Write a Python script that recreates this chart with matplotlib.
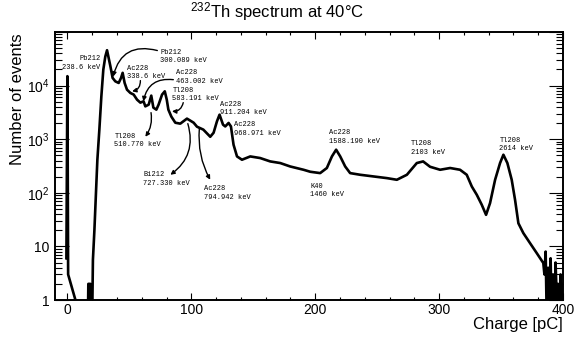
import numpy as np
import matplotlib
matplotlib.use("Agg")
import matplotlib.pyplot as plt
from matplotlib.ticker import FixedLocator, LogLocator, MultipleLocator, NullFormatter

plt.rcParams['font.family'] = ['Liberation Sans', 'DejaVu Sans']
plt.rcParams['mathtext.default'] = 'regular'

# spectrum (charge in pC, events per bin)
charge = [-0.8, 0, 0.6, 6.5, 7, 16.5, 16.9, 18.5, 19.2, 20.2, 20.6, 21.8, 23, 24.2,
          25.8, 27.4, 29, 30.6, 32, 34.7, 36.5, 38.7, 41.4, 43.3, 44.6, 46.2, 48.1,
          50.8, 53.5, 56.2, 58.9, 61.5, 62.9, 65.6, 67.7, 69.4, 71.8, 73.6, 76.4,
          78.6, 80.2, 81.5, 83.9, 87.1, 91.1, 96.5, 99.2, 101.9, 104.6, 109.7, 115.3,
          118, 120.7, 122.8, 125.6, 127.4, 130.1, 132, 134.1, 136.9, 140.9, 147.6,
          155.6, 163.7, 171.8, 179.8, 190.6, 196, 204, 209.4, 213.5, 216.9, 220.2,
          224.2, 228.2, 236.3, 247, 257.8, 265.9, 274, 282, 287.1, 292.7, 300.8,
          308.9, 316.9, 322.3, 326.4, 330.4, 334.4, 337.9, 341.1, 345.2, 349.2,
          351.9, 355.1, 358.6, 361.3, 364, 368, 373.4, 378.8, 384.1, 385, 386, 387,
          388, 389, 390, 391, 392, 393, 394, 395, 396, 397, 398, 399, 400]
events = [6, 15000, 3, 1, 0, 0, 2, 2, 0, 1, 5.6, 20, 92, 414,
          1510, 6230, 19900, 34800, 45700, 23000, 13900, 12000, 11200, 13900, 17300, 11200, 8400,
          7300, 6790, 5470, 4810, 5090, 4100, 4410, 6500, 3880, 3560, 4410, 6790,
          7820, 5470, 3560, 2640, 2030, 1950, 2420, 2220, 2030, 1710, 1510, 1110,
          1320, 2150, 2870, 1870, 1730, 2010, 1730, 789, 477, 414, 477,
          445, 385, 359, 310, 269, 247, 233, 290, 477, 637, 477,
          310, 233, 217, 202, 188, 175, 217, 359, 385, 306, 269,
          290, 269, 217, 131, 92, 60, 38.8, 64, 175, 359,
          513, 359, 175, 74, 27, 17.7, 11.5, 7.5, 4.9, 3, 8, 0,
          4, 1, 6, 0, 3, 0, 5, 1, 2, 0, 3, 0, 2]

# peak labels: text, anchor (pC, events), alignment
lab_text = ["Pb212\n238.6 keV", "Pb212\n300.089 keV", "Ac228\n338.6 keV",
            "Ac228\n463.002 keV", "Tl208\n583.191 keV", "Tl208\n510.770 keV",
            "Bi212\n727.330 keV", "Ac228\n794.942 keV", "Ac228\n911.204 keV",
            "Ac228\n968.971 keV", "Ac228\n1588.190 keV", "K40\n1460 keV",
            "Tl208\n2103 keV", "Tl208\n2614 keV"]
lab_x = [26.6, 75, 48.4, 87.9, 84.7, 37.9, 61.3, 109.9, 123.4, 134.7, 211.5, 196, 277.2, 348.6]
lab_y = [26600, 34800, 17500, 14400, 6790, 938, 179, 100, 3720, 1540, 1090, 111, 685, 789]
lab_ha = ['right'] + ['left'] * 13

# curved arrows: start, tip, curvature
arr_x0 = [72.6, 58.9, 85.5, 93.5, 67.5, 97.2, 106.5]
arr_y0 = [45100, 12400, 12900, 4810, 3130, 1950, 1570]
arr_x1 = [36.9, 52.2, 61.3, 84.4, 62.9, 83.1, 115.3]
arr_y1 = [14700, 7820, 5090, 3310, 1110, 217, 175]
arr_rad = [0.5, -0.4, 0.45, -0.4, -0.2, -0.35, 0.15]

fig = plt.figure(figsize=(5.81, 3.40), dpi=100)
ax = fig.add_axes([55 / 581, 40 / 340, 508 / 581, 268 / 340])

y = np.array(events, dtype=float)
y = np.where(y > 0, y, 0.3)
ax.plot(charge, y, color='black', linewidth=1.9)

ax.set_yscale('log')
ax.set_xlim(-10, 400)
ax.set_ylim(1, 1e5)

ax.xaxis.set_major_locator(MultipleLocator(100))
ax.xaxis.set_minor_locator(MultipleLocator(20))
ax.yaxis.set_major_locator(FixedLocator([1, 10, 100, 1000, 10000, 100000]))
ax.yaxis.set_minor_locator(LogLocator(base=10, subs=np.arange(2, 10)))
ax.yaxis.set_minor_formatter(NullFormatter())
ax.set_yticklabels(['1', '10', '$10^{2}$', '$10^{3}$', '$10^{4}$', ''])

ax.tick_params(which='both', direction='in', top=True, right=True, width=0.8, labelsize=10)
ax.tick_params(axis='x', which='major', length=5, pad=2)
ax.tick_params(axis='x', which='minor', length=2.5)
ax.tick_params(axis='y', which='major', length=10, pad=4)
ax.tick_params(axis='y', which='minor', length=5)
for s in ax.spines.values():
    s.set_linewidth(1.4)

for t, x, yy, ha in zip(lab_text, lab_x, lab_y, lab_ha):
    ax.text(x, yy, t, ha=ha, va='center', multialignment=ha,
            family='Liberation Mono', fontsize=5, linespacing=1.3)

for x0, y0, x1, y1, r in zip(arr_x0, arr_y0, arr_x1, arr_y1, arr_rad):
    ax.annotate('', xy=(x1, y1), xytext=(x0, y0),
                arrowprops=dict(arrowstyle='-|>', color='black', lw=1.0,
                                mutation_scale=6, shrinkA=0, shrinkB=0,
                                connectionstyle='arc3,rad=%s' % r))

fig.text(277 / 581, 1 - 12 / 340, '$^{232}$Th spectrum at 40°C', ha='center', va='center', fontsize=12)
fig.text(563 / 581, 1 - 325 / 340, 'Charge [pC]', ha='right', va='center', fontsize=12)
fig.text(17.5 / 581, 1 - 99 / 340, 'Number of events', ha='center', va='center',
         rotation=90, fontsize=12)

fig.savefig('out.png', dpi=100)
